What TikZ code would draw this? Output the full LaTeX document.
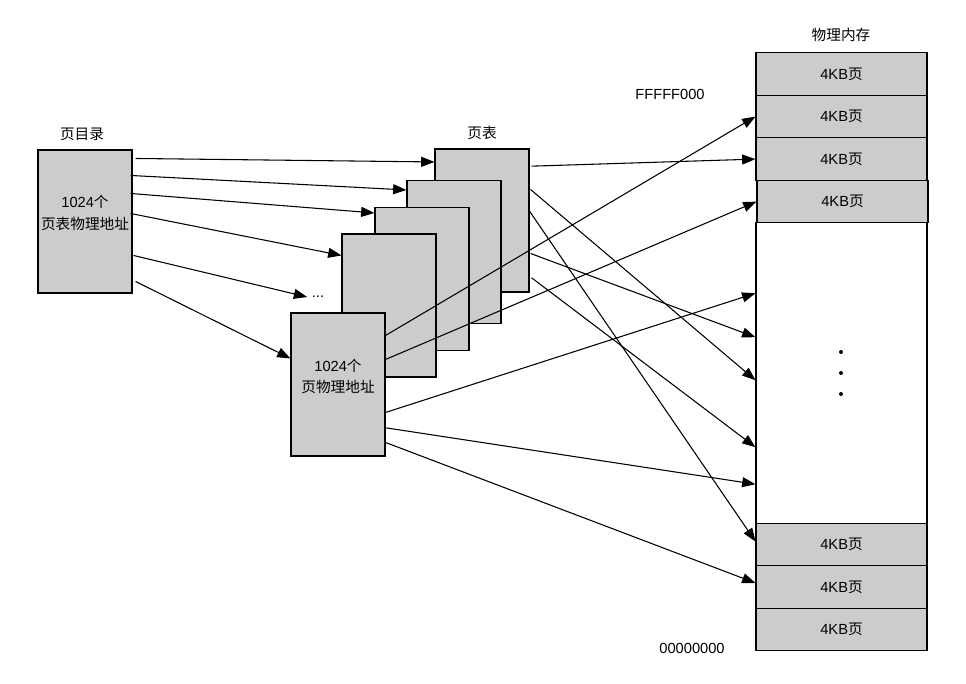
\documentclass[tikz,border=0pt]{standalone}
\usepackage{fontspec}
\setmainfont{Liberation Sans}
\newfontfamily\cjk{Noto Sans CJK SC}
\usetikzlibrary{arrows.meta,calc}

\begin{document}
\begin{tikzpicture}[x=0.75pt,y=-0.75pt]
\tikzset{boite/.style={draw, fill=gray!40, line width=0.8pt, minimum width=70.5pt, minimum height=107.25pt, inner sep=0pt, align=center, font=\fontsize{11}{16}\selectfont},
pageram/.style={draw, fill=gray!40, line width=0.8pt, minimum width=128.25pt, minimum height=31.875pt, inner sep=0pt, font=\fontsize{11}{13}\selectfont},
titre/.style={font=\fontsize{11}{13}\selectfont},
fleche/.style={-{Triangle[length=10pt,width=7.5pt]}, line width=0.8pt}}
\useasboundingbox (0,0) rectangle (966,684);
% page directory and page tables
\node[boite, text depth=14pt] (D) at (85,221.5) {1024{\cjk 个}\\{\cjk 页表物理地址}};
\node[boite] (T1) at (482,220.5) {};
\node[boite] (T2) at (454,252) {};
\node[boite] (T3) at (422,279) {};
\node[boite] (T4) at (389,305.5) {};
\node[boite, text depth=13pt] (T5) at (338,384.5) {1024{\cjk 个}\\{\cjk 页物理地址}};
\node[titre] (LD) at (82,134) {\cjk 页目录};
\node[titre] (LT) at (482,133) {\cjk 页表};
\node[titre] (E) at (318,297) {...};
% physical memory
\node[pageram, fill=white, minimum height=225.375pt] (Mid) at (841.5,373) {};
\node[pageram] (M1) at (841.5,74.1) {4KB{\cjk 页}};
\node[pageram] (M2) at (841.5,116.6) {4KB{\cjk 页}};
\node[pageram] (M3) at (841.5,159.1) {4KB{\cjk 页}};
\node[pageram] (M4) at (842.5,201.6) {4KB{\cjk 页}};
\node[pageram] (B1) at (841.5,544.5) {4KB{\cjk 页}};
\node[pageram] (B2) at (841.5,587) {4KB{\cjk 页}};
\node[pageram] (B3) at (841.5,629.5) {4KB{\cjk 页}};
\node[titre] (LM) at (841,35) {\cjk 物理内存};
\node[titre] (HI) at (670,94) {FFFFF000};
\node[titre] (LO) at (692,648) {00000000};
\fill (841,352) circle (1.5pt);
\fill (841,373) circle (1.5pt);
\fill (841,394) circle (1.5pt);
% directory -> tables
\draw[fleche] ($(D.north east)+(3,9)$) -- ($(T1.north west)+(0,13.5)$);
\draw[fleche] ($(D.north east)+(-2,26)$) -- ($(T2.north west)+(0,10)$);
\draw[fleche] ($(D.north east)+(-2,44)$) -- ($(T3.north west)+(0,6)$);
\draw[fleche] ($(D.north east)+(-2,64)$) -- ($(T4.north west)+(0,22)$);
\draw[fleche] ($(D.north east)+(1,106)$) -- (E.west);
\draw[fleche] ($(D.north east)+(3,132)$) -- ($(T5.north west)+(0,46)$);
% tables -> memory
\draw[fleche] ($(T1.north east)+(2,17.7)$) -- (M3.west);
\draw[fleche] ($(T1.north east)+(1,41)$) -- ($(Mid.north west)+(0,158)$);
\draw[fleche] ($(T1.north east)+(0,62.7)$) -- ($(B1.west)+(0,-3)$);
\draw[fleche] ($(T1.north east)+(1,105)$) -- ($(Mid.north west)+(0,115)$);
\draw[fleche] ($(T1.north east)+(2,129.3)$) -- ($(Mid.north west)+(0,225)$);
\draw[fleche] ($(T5.north east)+(0,23)$) -- (M2.west);
\draw[fleche] ($(T5.north east)+(0,47)$) -- (M4.west);
\draw[fleche] ($(T5.north east)+(0,100)$) -- ($(Mid.north west)+(0,71)$);
\draw[fleche] ($(T5.north east)+(0,115.3)$) -- ($(Mid.north west)+(0,262)$);
\draw[fleche] ($(T5.north east)+(0,130)$) -- ($(B2.west)+(0,-4)$);
\end{tikzpicture}
\end{document}
